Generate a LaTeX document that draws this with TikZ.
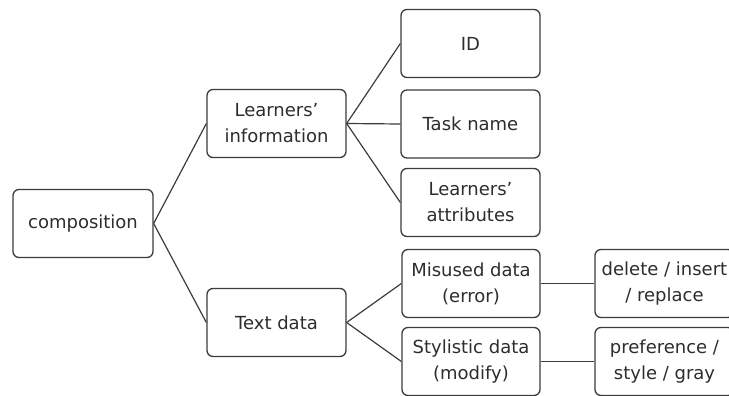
\documentclass[tikz,border=0pt]{standalone}
\usepackage{fontspec}
\setmainfont{DejaVu Sans}
\usepackage{tikz}
\usetikzlibrary{positioning}
\definecolor{linegray}{RGB}{60,60,60}
\definecolor{textgray}{RGB}{45,45,45}

\begin{document}
\begin{tikzpicture}[x=1pt, y=-1pt,
  box/.style={draw=linegray, line width=1.3pt, rounded corners=6pt, fill=white,
    minimum width=139pt, minimum height=68pt, align=center, inner sep=0pt,
    text=textgray, font=\fontsize{18}{26}\selectfont},
  link/.style={draw=linegray, line width=1.2pt}]
\useasboundingbox (0,0) rectangle (729,396);
\clip (0,0) rectangle (729,396);
% Root box
\node[box, minimum width=140pt] (comp) at (83, 223.5) {composition};
% Second level
\node[box] (info) at (276.5, 123.5) {Learners’\\information};
\node[box] (text) at (276.5, 322.5) {Text data};
% Learners' information children
\node[box] (id)   at (470.5, 43.5)  {ID};
\node[box] (task) at (470.5, 124)   {Task name};
\node[box] (attr) at (470.5, 202.5) {Learners’\\attributes};
% Text data children
\node[box, minimum width=138pt] (mis) at (471, 283.5) {Misused data\\(error)};
\node[box, minimum width=138pt] (sty) at (471, 361.5) {Stylistic data\\(modify)};
% Right column (cut at the border)
\node[box] (del)  at (664.5, 283.5) {delete / insert\\/ replace};
\node[box] (pref) at (664.5, 361.5) {preference /\\style / gray};
% Connectors
\draw[link] (comp.east) -- (info.west);
\draw[link] (comp.east) -- (text.west);
\draw[link] (info.east) -- (id.west);
\draw[link] (info.east) -- (task.west);
\draw[link] (info.east) -- (attr.west);
\draw[link] (text.east) -- (mis.west);
\draw[link] (text.east) -- (sty.west);
\draw[link] (mis.east)  -- (del.west);
\draw[link] (sty.east)  -- (pref.west);
\end{tikzpicture}
\end{document}
